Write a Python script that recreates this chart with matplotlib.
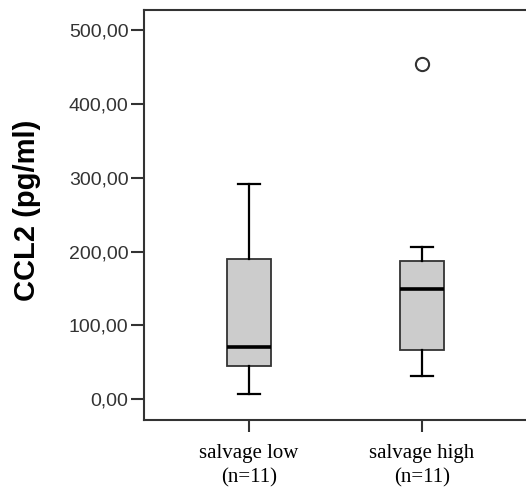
import matplotlib
matplotlib.use("Agg")
import matplotlib.pyplot as plt

# --- data (CCL2, pg/ml) ---
GROUPS = ["salvage low\n(n=11)", "salvage high\n(n=11)"]
WHISKER_LOW = [7.7, 31.8]
Q1 = [45.0, 67.0]
MEDIAN = [71.4, 149.0]
Q3 = [190.0, 187.8]
WHISKER_HIGH = [291.9, 207.0]
OUTLIERS = [[], [454.6]]

Y_TICKS = [0, 100, 200, 300, 400, 500]

EDGE = '#333333'
FILL = '#cccccc'

stats = []
for i, name in enumerate(GROUPS):
    stats.append({
        'label': name,
        'whislo': WHISKER_LOW[i],
        'q1': Q1[i],
        'med': MEDIAN[i],
        'q3': Q3[i],
        'whishi': WHISKER_HIGH[i],
        'fliers': OUTLIERS[i],
    })

fig = plt.figure(figsize=(5.26, 4.95), dpi=100)
ax = fig.add_axes([0.273, 0.1525, 0.777, 0.8273])

ax.bxp(
    stats,
    positions=[1, 2],
    widths=0.252,
    capwidths=0.13,
    patch_artist=True,
    boxprops=dict(facecolor=FILL, edgecolor=EDGE, linewidth=1.3),
    medianprops=dict(color='black', linewidth=2.6, solid_capstyle='butt'),
    whiskerprops=dict(color='black', linewidth=1.6),
    capprops=dict(color='black', linewidth=1.6),
    flierprops=dict(marker='o', markersize=9.5, markerfacecolor='white',
                    markeredgecolor=EDGE, markeredgewidth=1.5),
)

ax.set_xlim(0.391, 2.753)
ax.set_ylim(-27.4, 527.5)

ax.set_yticks(Y_TICKS)
ax.set_yticklabels([f"{v:.2f}".replace('.', ',') for v in Y_TICKS],
                   fontfamily='Liberation Sans', fontsize=14, color='#333333')
ax.set_xticks([1, 2])
ax.set_xticklabels(GROUPS, fontfamily='Liberation Serif', fontsize=15,
                   linespacing=1.4)

ax.tick_params(axis='y', length=9.4, width=1.5, color=EDGE, pad=1.5)
ax.tick_params(axis='x', length=8.5, width=1.5, color=EDGE, pad=9)

for side in ['left', 'bottom', 'top', 'right']:
    ax.spines[side].set_color(EDGE)
    ax.spines[side].set_linewidth(1.5)

ax.set_ylabel("CCL2 (pg/ml)", fontfamily='Liberation Sans', fontsize=21,
              fontweight='bold')
ax.yaxis.set_label_coords(-0.252, 0.512)

fig.savefig('out.png', dpi=100)
